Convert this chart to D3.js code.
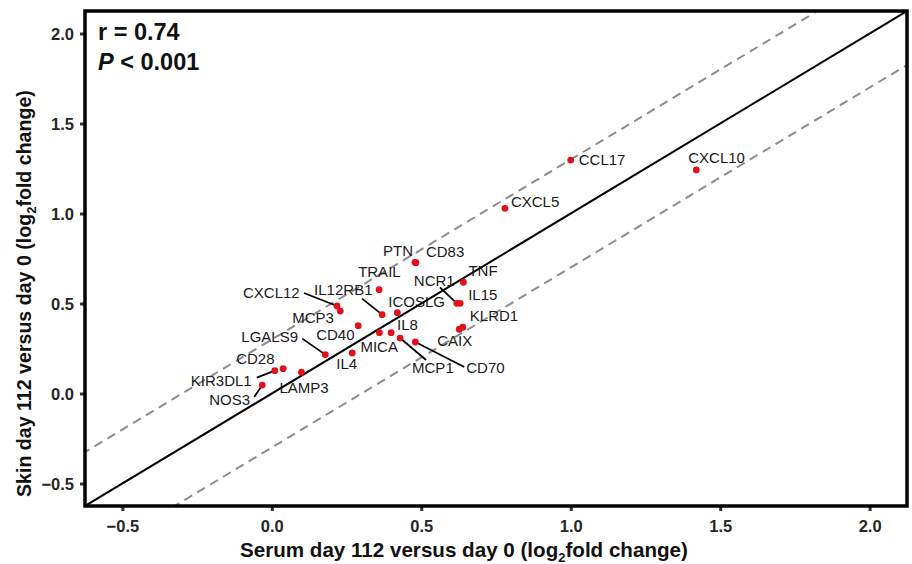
<!DOCTYPE html>
<html>
<head>
<meta charset="utf-8">
<script src="https://cdn.jsdelivr.net/npm/d3@7"></script>
<style>
  body { margin: 0; background: #fff; }
  svg text { font-family: "Liberation Sans", Arial, Helvetica, sans-serif; }
</style>
</head>
<body>
<div id="chart-root"></div>
<script>
// values (log2 fold change, day 112 vs day 0)
const genes = ['CCL17', 'CXCL10', 'CXCL5', 'PTN', 'CD83', 'TNF', 'NCR1', 'IL15',
  'KLRD1', 'CAIX', 'TRAIL', 'IL12RB1', 'ICOSLG', 'IL8', 'MICA', 'MCP1', 'CD70',
  'CD40', 'IL4', 'LGALS9', 'CXCL12', 'MCP3', 'CD28', 'KIR3DL1', 'LAMP3', 'NOS3'];
const serum = [1.00, 1.42, 0.78, 0.479, 0.482, 0.641, 0.619, 0.630,
  0.639, 0.627, 0.359, 0.369, 0.420, 0.399, 0.360, 0.429, 0.480,
  0.289, 0.269, 0.179, 0.218, 0.229, 0.038, 0.010, 0.099, -0.032];
const skin = [1.297, 1.242, 1.029, 0.729, 0.727, 0.618, 0.501, 0.501,
  0.368, 0.357, 0.577, 0.438, 0.449, 0.338, 0.338, 0.308, 0.286,
  0.377, 0.225, 0.216, 0.486, 0.458, 0.138, 0.127, 0.118, 0.047];
const ticks = [-0.5, 0, 0.5, 1.0, 1.5, 2.0];
const bandOffset = 0.3;   // dashed lines at y = x +/- 0.3
const statR = '0.74';
const statP = '< 0.001';

// label placement (pixel offsets from the point, text start / baseline)
const labelNudge = {
  CCL17: [8, 5], CXCL10: [-8, -7], CXCL5: [6, -1], PTN: [-32, -6], CD83: [10, -6],
  TNF: [5, -6], NCR1: [-43, -17], IL15: [8, -3], KLRD1: [7, -6], CAIX: [-22, 17],
  TRAIL: [-21, -13], IL12RB1: [-68, -20], ICOSLG: [-9, -6], IL8: [6, -3],
  MICA: [-19, 19], MCP1: [12, 35], CD70: [51, 31], CD40: [-42, 14], IL4: [-16, 16],
  LGALS9: [-84, -13], CXCL12: [-94, -8], MCP3: [-48, 12], CD28: [-47, -5],
  KIR3DL1: [-84, 15], LAMP3: [-22, 21], NOS3: [-53, 20]
};
// leader segments: far end offset from point
const leaders = {
  NCR1: [-17, -16], IL12RB1: [-20, -16], MCP1: [26, 22], CD70: [49, 25],
  LGALS9: [-23, -16], CXCL12: [-33, -13], KIR3DL1: [-18, 7], NOS3: [-8, 12]
};

const W = 912, H = 564;
const panel = {left: 85, right: 907, top: 11, bottom: 506};
const dom = [-0.625, 2.125];

const svg = d3.select('#chart-root').append('svg')
    .attr('width', W).attr('height', H);

const x = d3.scaleLinear().domain(dom).range([panel.left, panel.right]);
const y = d3.scaleLinear().domain(dom).range([panel.bottom, panel.top]);

svg.append('clipPath').attr('id', 'clip')
  .append('rect')
    .attr('x', panel.left).attr('y', panel.top)
    .attr('width', panel.right - panel.left)
    .attr('height', panel.bottom - panel.top);

const lines = svg.append('g').attr('clip-path', 'url(#clip)');
const lineOf = (off) => [[dom[0] - 1, dom[0] - 1 + off], [dom[1] + 1, dom[1] + 1 + off]];
const path = d3.line().x(d => x(d[0])).y(d => y(d[1]));

[bandOffset, -bandOffset].forEach(off => {
  lines.append('path')
      .attr('d', path(lineOf(off)))
      .attr('stroke', '#8c8c8c').attr('stroke-width', 2)
      .attr('stroke-dasharray', '9,6').attr('fill', 'none');
});
lines.append('path')
    .attr('d', path(lineOf(0)))
    .attr('stroke', '#000').attr('stroke-width', 2).attr('fill', 'none');

const pts = genes.map((g, i) => ({gene: g, sx: serum[i], sk: skin[i]}));

// leader lines
svg.append('g').selectAll('line')
  .data(pts.filter(d => leaders[d.gene]))
  .join('line')
    .attr('x1', d => x(d.sx)).attr('y1', d => y(d.sk))
    .attr('x2', d => x(d.sx) + leaders[d.gene][0])
    .attr('y2', d => y(d.sk) + leaders[d.gene][1])
    .attr('stroke', '#000').attr('stroke-width', 1.8);

svg.append('g').selectAll('circle')
  .data(pts)
  .join('circle')
    .attr('cx', d => x(d.sx)).attr('cy', d => y(d.sk))
    .attr('r', 3.4).attr('fill', '#e3101b');

svg.append('g').selectAll('text')
  .data(pts)
  .join('text')
    .attr('x', d => x(d.sx) + labelNudge[d.gene][0])
    .attr('y', d => y(d.sk) + labelNudge[d.gene][1])
    .attr('font-size', 15).attr('fill', '#1a1a1a')
    .text(d => d.gene);

// axes
const fmt = (v) => (v < 0 ? '\u2212' : '') + d3.format('.1f')(Math.abs(v));
const xAxis = svg.append('g')
    .attr('transform', `translate(0,${panel.bottom})`)
    .call(d3.axisBottom(x).tickValues(ticks).tickFormat(fmt).tickSize(5).tickPadding(9));
const yAxis = svg.append('g')
    .attr('transform', `translate(${panel.left},0)`)
    .call(d3.axisLeft(y).tickValues(ticks).tickFormat(fmt).tickSize(5).tickPadding(6));
[xAxis, yAxis].forEach(a => {
  a.select('.domain').remove();
  a.selectAll('line').attr('stroke', '#333').attr('stroke-width', 3);
  a.selectAll('text').attr('font-size', 16.5).attr('font-weight', 'bold')
      .attr('fill', '#262626').attr('font-family', '"Liberation Sans", Arial, sans-serif');
});
yAxis.selectAll('text').attr('dy', '0.36em');

svg.append('rect')
    .attr('x', panel.left).attr('y', panel.top)
    .attr('width', panel.right - panel.left)
    .attr('height', panel.bottom - panel.top)
    .attr('fill', 'none').attr('stroke', '#000').attr('stroke-width', 3.5);

// axis titles
const xt = svg.append('text')
    .attr('x', 240).attr('y', 557)
    .attr('font-size', 20.6).attr('font-weight', 'bold').attr('fill', '#111');
xt.append('tspan').text('Serum day 112 versus day 0 (log');
xt.append('tspan').attr('font-size', 13).attr('dy', 5).text('2');
xt.append('tspan').attr('dy', -5).text('fold change)');

const yt = svg.append('text')
    .attr('transform', 'translate(31,497) rotate(-90)')
    .attr('font-size', 19.6).attr('font-weight', 'bold').attr('fill', '#111');
yt.append('tspan').text('Skin day 112 versus day 0 (log');
yt.append('tspan').attr('font-size', 13).attr('dy', 5).text('2');
yt.append('tspan').attr('dy', -5).text('fold change)');

// stats
svg.append('text').attr('x', 98).attr('y', 40)
    .attr('font-size', 23.5).attr('font-weight', 'bold').attr('fill', '#111')
    .text('r = ' + statR);
const pt = svg.append('text').attr('x', 98).attr('y', 70)
    .attr('font-size', 23.5).attr('font-weight', 'bold').attr('fill', '#111');
pt.append('tspan').attr('font-style', 'italic').text('P');
pt.append('tspan').text(' ' + statP);
</script>
</body>
</html>
